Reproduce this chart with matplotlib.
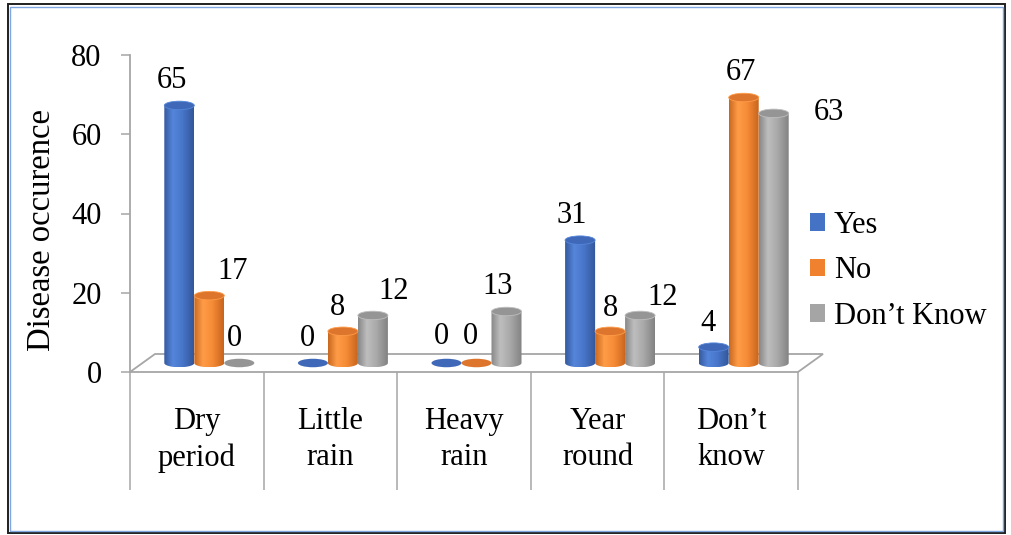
import numpy as np
import matplotlib
matplotlib.use("Agg")
import matplotlib.pyplot as plt
from matplotlib.colors import LinearSegmentedColormap
from matplotlib.patches import Polygon, Ellipse, Rectangle, Patch

# ---- data -------------------------------------------------------------
categories = ["Dry\nperiod", "Little\nrain", "Heavy\nrain", "Year\nround", "Don\u2019t\nknow"]
series_names = ["Yes", "No", "Don\u2019t Know"]
yes_values = [65, 0, 0, 31, 4]
no_values = [17, 8, 0, 8, 67]
dont_know_values = [0, 12, 13, 12, 63]
y_ticks = [0, 20, 40, 60, 80]
y_title = "Disease occurence"

# ---- styling ----------------------------------------------------------
plt.rcParams["font.family"] = ["Liberation Serif", "DejaVu Serif"]
FS = 22
AX_GRAY = "#A6A6A6"

# cylinder shading: left edge, highlight, body, right edge
shades = [
    ["#35599E", "#5586DB", "#4775C8", "#33569A"],
    ["#C9671F", "#FF9C48", "#F68B36", "#C6641D"],
    ["#868686", "#BEBEBE", "#A9A9A9", "#828282"],
]
top_colors = ["#3F69B8", "#DD752D", "#959595"]
legend_colors = ["#4472C4", "#F0822F", "#A5A5A5"]

# per-label nudges (pixels right, pixels up) from the top of each cylinder
label_nudge = [
    [(-7, 25), (23, 24), (-5, 25)],
    [(-5, 25), (-5, 24), (21, 24)],
    [(-5, 26), (-6, 26), (-9, 25)],
    [(-8, 25), (0, 23), (23, 18)],
    [(-6, 24), (-3, 25), (55, 1)],
]

fig = plt.figure(figsize=(10.11, 5.35), dpi=100)
ax = fig.add_axes([130 / 1011, (535 - 372) / 535, 668 / 1011, 317 / 535])
ax.set_xlim(-0.5, len(categories) - 0.5)
ax.set_ylim(y_ticks[0], y_ticks[-1])

# pixel scale of the axes, used for the pseudo-3D depth
XU = 668 / 5.0          # px per category
YU = 317 / 80.0         # px per value unit
DX, DY = 25 / XU, 18 / YU          # floor depth
W = 30 / XU                        # cylinder diameter
EH = 8.5 / YU                      # ellipse height
BX, BY = DX / 2, DY / 2            # cylinders stand mid-depth

# floor
n = len(categories)
floor = Polygon([(-0.5, 0), (n - 0.5, 0), (n - 0.5 + DX, DY), (-0.5 + DX, DY)],
                closed=True, facecolor="white", edgecolor=AX_GRAY, lw=1.3,
                clip_on=False, zorder=1)
ax.add_patch(floor)


def cylinder(xc, value, k, z):
    base = BY
    top = base + value
    x0, x1 = xc - W / 2, xc + W / 2
    if value > 0:
        t = np.linspace(0, np.pi, 80)
        bottom = np.column_stack([xc - W / 2 * np.cos(t), base - EH / 2 * np.sin(t)])
        outline = np.vstack([bottom, [[x1, top], [x0, top]]])
        clip = Polygon(outline, closed=True, transform=ax.transData,
                       facecolor="none", edgecolor="none")
        ax.add_patch(clip)
        cmap = LinearSegmentedColormap.from_list(
            f"cyl{k}", list(zip([0.0, 0.3, 0.62, 1.0], shades[k])))
        grad = np.linspace(0, 1, 256).reshape(1, -1)
        im = ax.imshow(grad, cmap=cmap, extent=[x0, x1, base - EH / 2, top],
                       aspect="auto", origin="lower", interpolation="bilinear",
                       zorder=z)
        im.set_clip_path(clip)
    cap = Ellipse((xc, top), W, EH, facecolor=top_colors[k],
                  edgecolor=shades[k][1] if value > 0 else "none", lw=0.6,
                  zorder=z + 0.1)
    ax.add_patch(cap)
    return top


all_series = [yes_values, no_values, dont_know_values]
for i in range(n):
    for k, vals in enumerate(all_series):
        xc = i + BX + (k - 1) * W
        top = cylinder(xc, vals[i], k, 3 + i * 0.5 + k * 0.01)
        ddx, ddy = label_nudge[i][k]
        ax.annotate(str(vals[i]), (xc, top), xytext=(ddx, ddy),
                    textcoords="offset pixels", ha="center", va="center",
                    fontsize=FS, color="black", annotation_clip=False, zorder=10)

# axes styling
ax.set_xlim(-0.5, n - 0.5)
ax.set_ylim(y_ticks[0], y_ticks[-1])
for s in ["top", "right", "bottom"]:
    ax.spines[s].set_visible(False)
ax.spines["left"].set_color(AX_GRAY)
ax.spines["left"].set_linewidth(1.3)
ax.set_yticks(y_ticks)
ax.set_yticklabels([str(v) for v in y_ticks])
ax.tick_params(axis="y", direction="out", length=6.5, width=1.1, color=AX_GRAY,
               pad=14, labelsize=FS)
ax.set_xticks(range(n))
ax.set_xticklabels(categories, fontsize=FS, linespacing=1.35)
ax.set_xticks(np.arange(-0.5, n, 1.0), minor=True)
ax.tick_params(axis="x", which="major", length=0, pad=25)
ax.tick_params(axis="x", which="minor", direction="out", length=85, width=1.1,
               color=AX_GRAY)
ax.set_ylabel(y_title, fontsize=23.5)
ax.yaxis.set_label_coords((57 - 130) / 668, (372 - 230) / 317)
ax.patch.set_visible(False)

# legend
handles = [Patch(facecolor=c, edgecolor="none") for c in legend_colors]
fig.legend(handles, series_names, loc="center left",
           bbox_to_anchor=(810 / 1011, (535 - 271) / 535),
           bbox_transform=fig.transFigure, frameon=False, fontsize=FS,
           handlelength=0.5, handleheight=0.5, handletextpad=0.28,
           labelspacing=0.54, borderpad=0, borderaxespad=0)

# outer frame
fig.add_artist(Rectangle((8 / 1011, 2 / 535), 997 / 1011, 529 / 535,
                         transform=fig.transFigure, fill=False,
                         edgecolor="#1F1F1F", lw=1.4))
fig.add_artist(Rectangle((10 / 1011, 4 / 535), 993 / 1011, 524 / 535,
                         transform=fig.transFigure, fill=False,
                         edgecolor="#7EA6E0", lw=1.0))

fig.savefig("out.png", dpi=100)
